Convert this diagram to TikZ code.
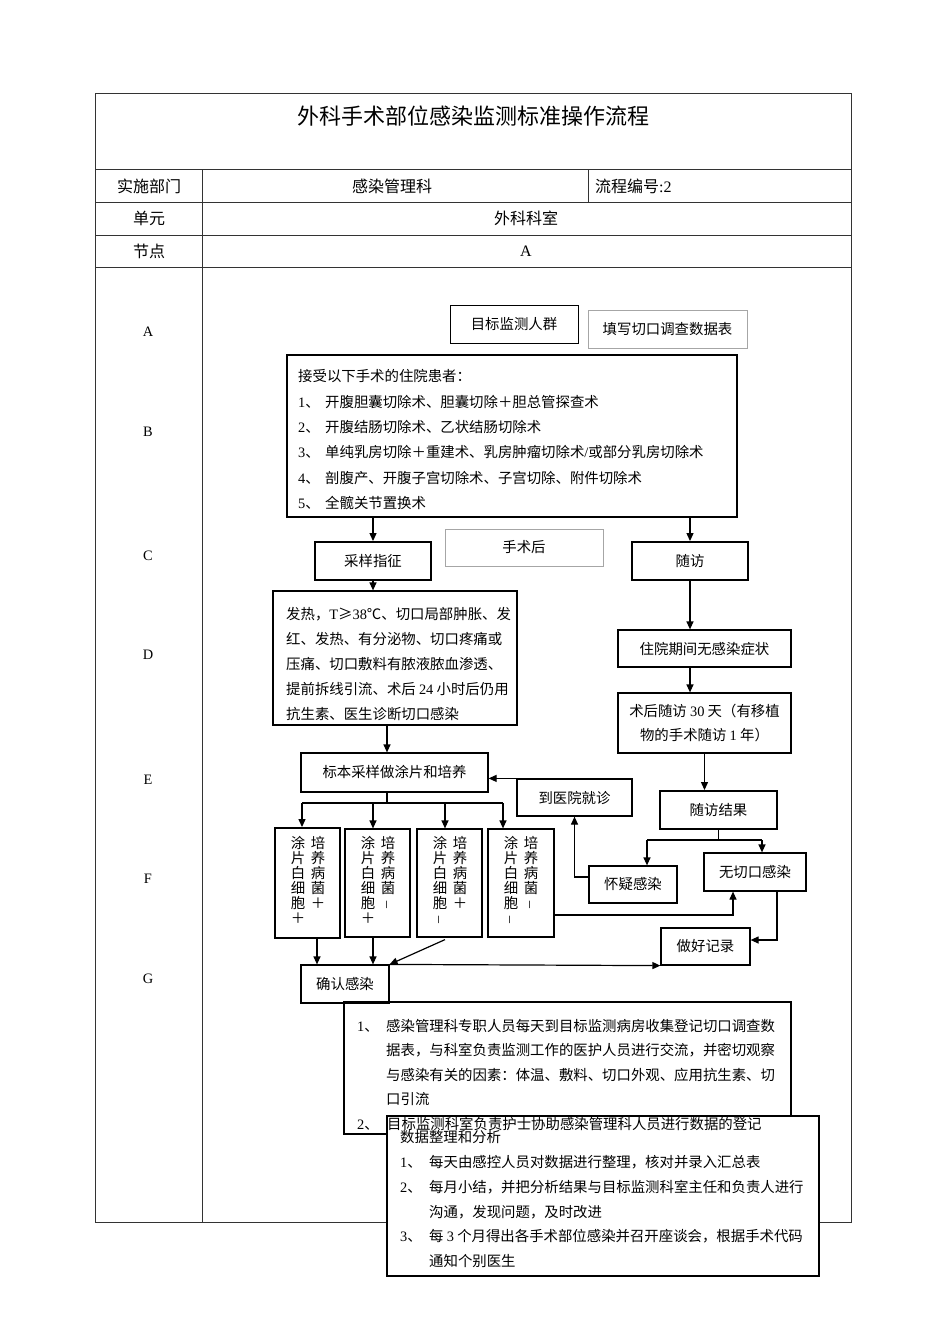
\documentclass[tikz,border=0pt]{standalone}
\usepackage{fontspec}
\usepackage{graphicx}
\setmainfont{Noto Sans CJK SC}
\newfontfamily\lat{Liberation Serif}
\usetikzlibrary{arrows.meta}
\newcommand{\vmin}{\rotatebox{90}{\lat –}}
\newcommand{\nm}[1]{{\lat #1}}
\begin{document}
\begin{tikzpicture}[x=1pt,y=-1pt,
  every node/.style={font=\fontsize{14.4}{17}\selectfont, inner sep=0pt},
  thinbox/.style={draw=black, line width=0.9pt},
  thickbox/.style={draw=black, line width=1.9pt},
  graybox/.style={draw=black!35, line width=0.8pt},
  txt/.style={anchor=west, text height=11.5pt, text depth=0.5pt},
  hdr/.style={font=\fontsize{16}{19}\selectfont},
  lbl/.style={font=\lat\fontsize{14.4}{17}\selectfont},
  tab/.style={draw=black!80, line width=0.8pt},
  arr/.style={line width=1.2pt, -{Triangle[length=8pt,width=7pt]}},
  ln/.style={line width=1.2pt},
  vcol/.style={anchor=north, align=center, font=\fontsize{14.4}{15}\selectfont}
]
\fill[white] (0,0) rectangle (950,1344);
% ---------- table ----------
\draw[tab] (95,93) rectangle (851,1222);
\foreach \yy in {169,202,235,267} \draw[tab] (95,\yy) -- (851,\yy);
\draw[tab] (202,169) -- (202,1222);
\draw[tab] (588,169) -- (588,202);
\node[font=\fontsize{22}{26}\selectfont] (title) at (473,116) {外科手术部位感染监测标准操作流程};
\node[hdr] (h1) at (149,186) {实施部门};
\node[hdr] (h2) at (392,186) {感染管理科};
\node[hdr, anchor=west] (h3) at (595,186) {流程编号\nm{:2}};
\node[hdr] (h4) at (149,218) {单元};
\node[hdr] (h5) at (526,218) {外科科室};
\node[hdr] (h6) at (149,251) {节点};
\node[lbl, font=\lat\fontsize{16}{19}\selectfont] (h7) at (526,251) {A};
\node[lbl] (lA) at (148,332) {A};
\node[lbl] (lB) at (148,432) {B};
\node[lbl] (lC) at (148,556) {C};
\node[lbl] (lD) at (148,655) {D};
\node[lbl] (lE) at (148,780) {E};
\node[lbl] (lF) at (148,879) {F};
\node[lbl] (lG) at (148,979) {G};
% ---------- flow nodes ----------
\node[thinbox, minimum width=128pt, minimum height=38pt] (tgt) at (514,324) {目标监测人群};
\node[graybox, minimum width=159pt, minimum height=38pt] (fill) at (667.5,329) {填写切口调查数据表};
\node[draw=black, line width=1.2pt, minimum width=450pt, minimum height=162pt] (B) at (512,436) {};
\node[txt] (b0) at (298,376) {接受以下手术的住院患者：};
\node[txt] (b1n) at (298,402) {\nm{1}、};
\node[txt] (b1) at (325,402) {开腹胆囊切除术、胆囊切除＋胆总管探查术};
\node[txt] (b2n) at (298,427) {\nm{2}、};
\node[txt] (b2) at (325,427) {开腹结肠切除术、乙状结肠切除术};
\node[txt] (b3n) at (298,452) {\nm{3}、};
\node[txt] (b3) at (325,452) {单纯乳房切除＋重建术、乳房肿瘤切除术\nm{/}或部分乳房切除术};
\node[txt] (b4n) at (298,478) {\nm{4}、};
\node[txt] (b4) at (325,478) {剖腹产、开腹子宫切除术、子宫切除、附件切除术};
\node[txt] (b5n) at (298,503) {\nm{5}、};
\node[txt] (b5) at (325,503) {全髋关节置换术};

\node[thickbox, minimum width=116pt, minimum height=38pt] (sample) at (373,561) {采样指征};
\node[graybox, minimum width=158pt, minimum height=37pt] (after) at (524,547.5) {手术后};
\node[thickbox, minimum width=116pt, minimum height=38pt] (fu) at (690,561) {随访};

\node[draw=black, line width=1.2pt, minimum width=244pt, minimum height=134pt] (D) at (395,658) {};
\node[txt] (d1) at (286,614) {发热，\nm{T}≥\nm{38}℃、切口局部肿胀、发};
\node[txt] (d2) at (286,639) {红、发热、有分泌物、切口疼痛或};
\node[txt] (d3) at (286,664) {压痛、切口敷料有脓液脓血渗透、};
\node[txt] (d4) at (286,689) {提前拆线引流、术后 \nm{24} 小时后仍用};
\node[txt] (d5) at (286,714) {抗生素、医生诊断切口感染};

\node[draw=black, line width=1.2pt, minimum width=173pt, minimum height=37pt] (noinf) at (704.5,648.5) {住院期间无感染症状};
\node[draw=black, line width=1.2pt, minimum width=173pt, minimum height=60pt, align=center, font=\fontsize{14.4}{24}\selectfont] (fu30) at (704.5,723) {术后随访 \nm{30} 天（有移植\\物的手术随访 \nm{1} 年）};

\node[draw=black, line width=1.2pt, minimum width=187pt, minimum height=39pt] (spec) at (394.5,772.5) {标本采样做涂片和培养};
\node[draw=black, line width=1.2pt, minimum width=115pt, minimum height=37pt] (hosp) at (574.5,797.5) {到医院就诊};
\node[thickbox, minimum width=117pt, minimum height=38pt] (fr) at (718.5,810) {随访结果};
\node[draw=black, line width=1.2pt, minimum width=88pt, minimum height=37pt] (susp) at (633,884.5) {怀疑感染};
\node[draw=black, line width=1.2pt, minimum width=102pt, minimum height=38pt] (noinc) at (755,872) {无切口感染};
\node[draw=black, line width=1.2pt, minimum width=89pt, minimum height=37pt] (rec) at (705.5,946.5) {做好记录};

\node[thickbox, minimum width=65pt, minimum height=110pt] (F1) at (307.5,883) {};
\node[draw=black, line width=1.2pt, minimum width=65pt, minimum height=108pt] (F2) at (377.5,883) {};
\node[draw=black, line width=1.2pt, minimum width=65pt, minimum height=108pt] (F3) at (449.5,883) {};
\node[draw=black, line width=1.2pt, minimum width=66pt, minimum height=108pt] (F4) at (521,883) {};
\node[vcol] (f1a) at (298,836) {涂\\片\\白\\细\\胞\\＋};
\node[vcol] (f1b) at (318,836) {培\\养\\病\\菌\\＋};
\node[vcol] (f2a) at (368,836) {涂\\片\\白\\细\\胞\\＋};
\node[vcol] (f2b) at (388,836) {培\\养\\病\\菌\\\vmin};
\node[vcol] (f3a) at (440,836) {涂\\片\\白\\细\\胞\\\vmin};
\node[vcol] (f3b) at (460,836) {培\\养\\病\\菌\\＋};
\node[vcol] (f4a) at (511,836) {涂\\片\\白\\细\\胞\\\vmin};
\node[vcol] (f4b) at (531,836) {培\\养\\病\\菌\\\vmin};

\node[draw=black, line width=1.2pt, minimum width=88pt, minimum height=38pt] (conf) at (345,984) {确认感染};

% ---------- connectors ----------
\draw[arr] (B.south -| sample.north) -- (sample.north);
\draw[arr] (B.south -| fu.north) -- (fu.north);
\draw[arr] (sample.south) -- (sample.south |- D.north);
\draw[arr] (fu.south) -- (fu.south |- noinf.north);
\draw[arr] (noinf.south -| fu.south) -- (fu30.north -| fu.south);
\draw[arr] (fu30.south) -- (fu30.south |- fr.north);
\draw[arr] ([xshift=-8pt]D.south) -- ([xshift=-8pt]D.south |- spec.north);

\coordinate (br) at (387,803);
\coordinate (bl) at (302,803);
\coordinate (brr) at (503,803);
\draw[ln] ([xshift=-7.5pt]spec.south) -- (br);
\draw[ln] (bl) -- (brr);
\draw[arr] (bl) -- (bl |- F1.north);
\draw[arr] ([xshift=-4.5pt]F2.north |- br) -- ([xshift=-4.5pt]F2.north);
\draw[arr] ([xshift=-4.5pt]F3.north |- br) -- ([xshift=-4.5pt]F3.north);
\draw[arr] (brr) -- (brr |- F4.north);

\draw[arr] ([xshift=9.5pt]F1.south) -- ([xshift=9.5pt]F1.south |- conf.north);
\draw[arr] ([xshift=-4.5pt]F2.south) -- ([xshift=-4.5pt]F2.south |- conf.north);
\draw[arr] ([xshift=-4.5pt,yshift=-2pt]F3.south) -- (conf.north east);
\draw[arr] (conf.north east) -- (rec.south west);

\draw[arr] ([yshift=-32pt]F4.east) -| ([xshift=-22pt]noinc.south);
\draw[arr] ([xshift=22pt]noinc.south) |- ([yshift=6.5pt]rec.east);

\coordinate (fbl) at (647,840);
\coordinate (fbr) at (762,840);
\draw[ln] (fr.south) -- (fr.south |- fbl);
\draw[ln] (fbl) -- (fbr);
\draw[arr] (fbl) -- (fbl |- susp.north);
\draw[arr] (fbr) -- (fbr |- noinc.north);
\draw[arr] ([yshift=7.5pt]susp.west) -| (hosp.south);
\draw[arr] (hosp.north west) -- (hosp.north west -| spec.east);

% ---------- bottom boxes ----------
\node[draw=black, line width=1.2pt, minimum width=447pt, minimum height=132pt] (det) at (567.5,1068) {};
\node[txt] (e1n) at (357,1026) {\nm{1}、};
\node[txt] (e1) at (386,1026) {感染管理科专职人员每天到目标监测病房收集登记切口调查数};
\node[txt] (e2) at (386,1050) {据表，与科室负责监测工作的医护人员进行交流，并密切观察};
\node[txt] (e3) at (386,1075) {与感染有关的因素：体温、敷料、切口外观、应用抗生素、切};
\node[txt] (e4) at (386,1099) {口引流};

\node[draw=black, line width=1.2pt, fill=white, minimum width=432pt, minimum height=160pt] (ana) at (603,1196) {};
\node[txt] (e5n) at (357,1124) {\nm{2}、};
\node[txt] (e5) at (387,1124) {目标监测科室负责护士协助感染管理科人员进行数据的登记};
\node[txt] (a0) at (400,1137) {数据整理和分析};
\node[txt] (a1n) at (400,1162) {\nm{1}、};
\node[txt] (a1) at (429,1162) {每天由感控人员对数据进行整理，核对并录入汇总表};
\node[txt] (a2n) at (400,1187) {\nm{2}、};
\node[txt] (a2) at (429,1187) {每月小结，并把分析结果与目标监测科室主任和负责人进行};
\node[txt] (a3) at (429,1212) {沟通，发现问题，及时改进};
\node[txt] (a4n) at (400,1236) {\nm{3}、};
\node[txt] (a4) at (429,1236) {每 \nm{3} 个月得出各手术部位感染并召开座谈会，根据手术代码};
\node[txt] (a5) at (429,1261) {通知个别医生};
\end{tikzpicture}
\end{document}
